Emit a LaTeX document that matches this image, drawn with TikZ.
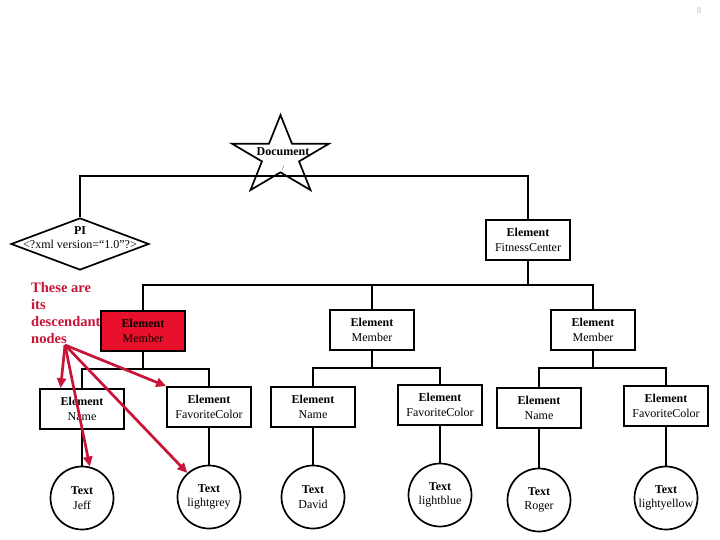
\documentclass[tikz,border=0pt]{standalone}
\usepackage{fontspec}
\setmainfont{Liberation Serif}
\usepackage{tikz}
\usetikzlibrary{calc}
\usetikzlibrary{shapes.geometric,positioning}
\usetikzlibrary{arrows.meta}
\definecolor{notered}{RGB}{200,20,55}
\definecolor{hilite}{RGB}{232,16,42}
\newcommand{\mkelem}[1]{\textbf{Element}\\#1}
\newcommand{\mktext}[1]{\textbf{Text}\\#1}
\tikzset{
    elembox/.style={
        draw, line width=1.7pt, rectangle,
        minimum width=84pt, minimum height=40pt,
        inner sep=1pt, align=center,
        font=\fontsize{12}{14.5}\selectfont
    },
    % circles hold the text nodes
    textcirc/.style={
        draw, line width=1.7pt, circle,
        minimum size=63pt, inner sep=0pt, align=center,
        font=\fontsize{12}{14.5}\selectfont
    },
    treeline/.style={line width=1.9pt},
    redarrow/.style={
        line width=2.7pt,
        notered,
        ->,
        >={Triangle[length=10pt, width=9pt]}
    }
}

\begin{document}
\begin{tikzpicture}[x=1pt, y=-1pt]
        \useasboundingbox (0,0) rectangle (720,540);
        \node[gray!55, font=\small] (pageno) at (699,11) {8};

        \node[draw, star, star points=5, star point ratio=2.618, minimum size=83pt,
              inner sep=0pt, line width=1.7pt, xscale=1.23, transform shape] (doc) at (280.5,156.5) {};
        \node[align=center, font=\fontsize{12}{15}\selectfont] (doctext) at (283,159) {\textbf{Document}\\{\scriptsize /}};

        \node[draw, diamond, line width=1.7pt, minimum width=138pt, minimum height=52pt, inner sep=0pt] (pi) at (80,244) {};
        \node[align=center, font=\fontsize{12}{14}\selectfont] (pitext) at (80,238) {\textbf{PI}\\<?xml version=“1.0”?>};
        \node[elembox] (fc) at (528,240) {\mkelem{FitnessCenter}};

        \path
        (280,176) coordinate (docbus)
        (528,285) coordinate (fcbus)
        (143,369) coordinate (bus1)
        (372,368) coordinate (bus2)
        (593,368) coordinate (bus3)
        (65,345) coordinate (notetip)
        ;

        \node[elembox, fill=hilite] (mem1) at (143,331) {\mkelem{Member}};
        \node[elembox] (mem2) at (372,330) {\mkelem{Member}};
        \node[elembox] (mem3) at (593,330) {\mkelem{Member}};

        \node[elembox] (name1) at (82,409) {\mkelem{Name}};
        \node[elembox] (fav1) at (209,407) {\mkelem{FavoriteColor}};
        \node[elembox] (name2) at (313,407) {\mkelem{Name}};
        \node[elembox] (fav2) at (440,405) {\mkelem{FavoriteColor}};
        \node[elembox] (name3) at (539,408) {\mkelem{Name}};
        \node[elembox] (fav3) at (666,406) {\mkelem{FavoriteColor}};

        \node[textcirc] (jeff) at (82,498) {\mktext{Jeff}};
        \node[textcirc] (lgrey) at (209,497) {\mktext{lightgrey}};
        \node[textcirc] (david) at (313,497) {\mktext{David}};
        \node[textcirc] (lblue) at (440,495) {\mktext{lightblue}};
        \node[textcirc] (roger) at (539,500) {\mktext{Roger}};
        \node[textcirc] (lyellow) at (666,498) {\mktext{lightyellow}};

        \draw[treeline] (pi.north) |- (docbus) -| (fc.north);
        \draw[treeline] (fc.south) -- (fcbus);
        \draw[treeline] (mem1.north) |- (fcbus) -| (mem3.north);
        \draw[treeline] (mem2.north) |- (fcbus);

        \draw[treeline] (mem1.south) -- (bus1);
        \draw[treeline] (name1.north) |- (bus1) -| (fav1.north);
        \draw[treeline] (mem2.south) -- (bus2);
        \draw[treeline] (name2.north) |- (bus2) -| (fav2.north);
        \draw[treeline] (mem3.south) -- (bus3);
        \draw[treeline] (name3.north) |- (bus3) -| (fav3.north);

        \draw[treeline] (name1.south) -- (jeff.north);
        \draw[treeline] (fav1.south) -- (lgrey.north);
        \draw[treeline] (name2.south) -- (david.north);
        \draw[treeline] (fav2.south) -- (lblue.north);
        \draw[treeline] (name3.south) -- (roger.north);
        \draw[treeline] (fav3.south) -- (lyellow.north);

        \node[anchor=north west, inner sep=0pt, align=left, text=notered,
              font=\fontsize{14.5}{17}\selectfont\bfseries] (note) at (31,282) {These are\\its\\descendant\\nodes};
        \draw[redarrow] (notetip) -- ($(name1.north)!0.5!(name1.north west)$);
        \draw[redarrow] (notetip) -- (jeff.76);
        \draw[redarrow] (notetip) -- (fav1.north west);
        \draw[redarrow] (notetip) -- (lgrey.132);
\end{tikzpicture}
\end{document}
